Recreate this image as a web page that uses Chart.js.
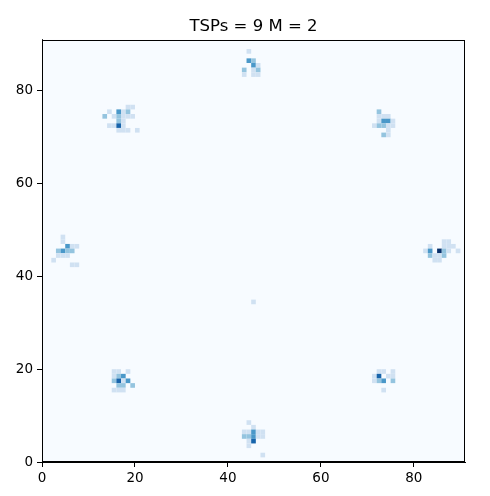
<!DOCTYPE html>
<html>
<head>
<meta charset="utf-8">
<script src="https://cdn.jsdelivr.net/npm/chart.js@4"></script>
<style>
  html, body { margin: 0; padding: 0; background: #fff; }
  #wrap { width: 490px; height: 496px; }
</style>
</head>
<body>
<div id="wrap"><canvas id="chart" width="490" height="496"></canvas></div>
<script>
// grid size (cells 0..90 on both axes)
const gridSize = 91;
const titleText = "TSPs = 9 M = 2";
const xTicks = [0, 20, 40, 60, 80];
const yTicks = [0, 20, 40, 60, 80];

// non-zero cells: column, row, count
const cellX = [
  44, 44, 45, 45, 46, 43, 45, 46, 43, 45, 46,
  18, 19, 14, 16, 17, 18, 13, 15, 16, 17, 18, 19, 16, 17, 14, 15, 16, 17, 16, 17, 18, 20,
  72, 72, 73, 74, 72, 73, 74, 75, 71, 72, 73, 74, 75, 74, 73, 74,
  4, 4, 5, 6, 7, 3, 4, 5, 6, 3, 4, 5, 2, 6, 7,
  86, 87, 83, 86, 87, 88, 82, 83, 85, 86, 87, 89, 83, 84, 85, 86, 84, 85,
  45,
  15, 16, 18, 15, 16, 17, 15, 16, 17, 18, 16, 17, 19, 15, 16, 17,
  72, 73, 75, 71, 72, 74, 75, 71, 72, 73, 75, 73,
  44, 45, 43, 44, 45, 46, 47, 43, 44, 45, 46, 47, 44, 45, 44, 47
];
const cellY = [
  88, 86, 86, 85, 85, 84, 84, 84, 83, 83, 83,
  76, 76, 75, 75, 75, 75, 74, 74, 74, 74, 74, 74, 73, 73, 72, 72, 72, 72, 71, 71, 71, 71,
  75, 74, 74, 74, 73, 73, 73, 73, 72, 72, 72, 72, 72, 71, 70, 70,
  48, 47, 46, 46, 46, 45, 45, 45, 45, 44, 44, 44, 43, 42, 42,
  47, 47, 46, 46, 46, 46, 45, 45, 45, 45, 45, 45, 44, 44, 44, 44, 43, 43,
  34,
  19, 19, 19, 18, 18, 18, 17, 17, 17, 17, 16, 16, 16, 15, 15, 15,
  19, 19, 19, 18, 18, 18, 18, 17, 17, 17, 17, 15,
  8, 7, 6, 6, 6, 6, 6, 5, 5, 5, 5, 5, 4, 4, 3, 1
];
const cellCount = [
  1, 3, 2, 3, 1, 2, 1, 2, 1, 1, 1,
  1, 1, 1, 3, 1, 2, 2, 1, 2, 1, 1, 1, 2, 1, 1, 1, 4, 1, 1, 1, 1, 1,
  2, 1, 1, 1, 1, 3, 3, 1, 1, 2, 2, 1, 1, 1, 2, 1,
  1, 1, 3, 1, 1, 2, 3, 2, 2, 1, 1, 1, 1, 1, 1,
  1, 1, 1, 1, 1, 1, 1, 3, 5, 2, 1, 1, 2, 1, 1, 2, 1, 1,
  1,
  1, 1, 1, 1, 2, 3, 2, 4, 1, 3, 2, 2, 2, 1, 1, 1,
  1, 1, 1, 1, 4, 1, 1, 1, 2, 3, 2, 1,
  1, 1, 1, 1, 3, 1, 1, 2, 2, 3, 1, 1, 1, 4, 1, 1
];
const maxCount = 5;

// matplotlib "Blues"
const bluesStops = ["#f7fbff", "#deebf7", "#c6dbef", "#9ecae1", "#6baed6",
                    "#4292c6", "#2171b5", "#08519c", "#08306b"];

function hexToRgb(h) {
  return [parseInt(h.slice(1, 3), 16), parseInt(h.slice(3, 5), 16), parseInt(h.slice(5, 7), 16)];
}

function blues(t) {
  t = Math.max(0, Math.min(1, t));
  const pos = t * (bluesStops.length - 1);
  const i = Math.min(Math.floor(pos), bluesStops.length - 2);
  const f = pos - i;
  const a = hexToRgb(bluesStops[i]);
  const b = hexToRgb(bluesStops[i + 1]);
  const c = a.map((v, k) => Math.round(v + (b[k] - v) * f));
  return `rgb(${c[0]},${c[1]},${c[2]})`;
}

// draws the image cells through the chart scales
const heatmapPlugin = {
  id: "heatmap",
  beforeDatasetsDraw(chart) {
    const { ctx, scales: { x, y } } = chart;
    ctx.save();
    ctx.fillStyle = blues(0);
    const x0 = x.getPixelForValue(0), x1 = x.getPixelForValue(gridSize);
    const y0 = y.getPixelForValue(0), y1 = y.getPixelForValue(gridSize);
    ctx.fillRect(x0, y1, x1 - x0, y0 - y1);
    cellX.forEach((cx, i) => {
      const left = x.getPixelForValue(cx);
      const right = x.getPixelForValue(cx + 1);
      const bottom = y.getPixelForValue(cellY[i]);
      const top = y.getPixelForValue(cellY[i] + 1);
      ctx.fillStyle = blues(cellCount[i] / maxCount);
      ctx.fillRect(left, top, right - left, bottom - top);
    });
    ctx.restore();
  },
  afterDraw(chart) {
    const { ctx, chartArea: a } = chart;
    ctx.save();
    ctx.strokeStyle = "#000";
    ctx.lineWidth = 1;
    ctx.strokeRect(Math.round(a.left) + 0.5, Math.round(a.top) + 0.5,
                   Math.round(a.right - a.left) - 1, Math.round(a.bottom - a.top) - 1);
    ctx.restore();
  }
};

const tickFont = { family: "DejaVu Sans", size: 13.5 };

new Chart(document.getElementById("chart").getContext("2d"), {
  type: "scatter",
  data: {
    datasets: [{
      data: cellX.map((cx, i) => ({ x: cx + 0.5, y: cellY[i] + 0.5 })),
      pointRadius: 0,
      pointHoverRadius: 0
    }]
  },
  options: {
    responsive: false,
    animation: false,
    events: [],
    layout: { padding: { left: 0, right: 25, top: 0, bottom: 0 } },
    plugins: {
      legend: { display: false },
      tooltip: { enabled: false },
      title: {
        display: true,
        text: titleText,
        fullSize: false,
        color: "#000",
        font: { family: "DejaVu Sans", size: 16.5, weight: "normal" },
        padding: { top: 17, bottom: 3 }
      }
    },
    scales: {
      x: {
        type: "linear",
        min: 0,
        max: gridSize,
        afterBuildTicks: (s) => { s.ticks = xTicks.map((v) => ({ value: v })); },
        afterFit: (s) => { s.height = 34; },
        ticks: { color: "#000", font: tickFont, padding: 3, maxRotation: 0 },
        grid: { display: true, drawOnChartArea: false, drawTicks: true, tickLength: 5, color: "#000" },
        border: { display: true, color: "#000" }
      },
      y: {
        type: "linear",
        min: 0,
        max: gridSize,
        afterBuildTicks: (s) => { s.ticks = yTicks.map((v) => ({ value: v })); },
        afterFit: (s) => { s.width = 42; },
        ticks: { color: "#000", font: tickFont, padding: 4 },
        grid: { display: true, drawOnChartArea: false, drawTicks: true, tickLength: 5, color: "#000" },
        border: { display: true, color: "#000" }
      }
    }
  },
  plugins: [heatmapPlugin]
});
</script>
</body>
</html>
